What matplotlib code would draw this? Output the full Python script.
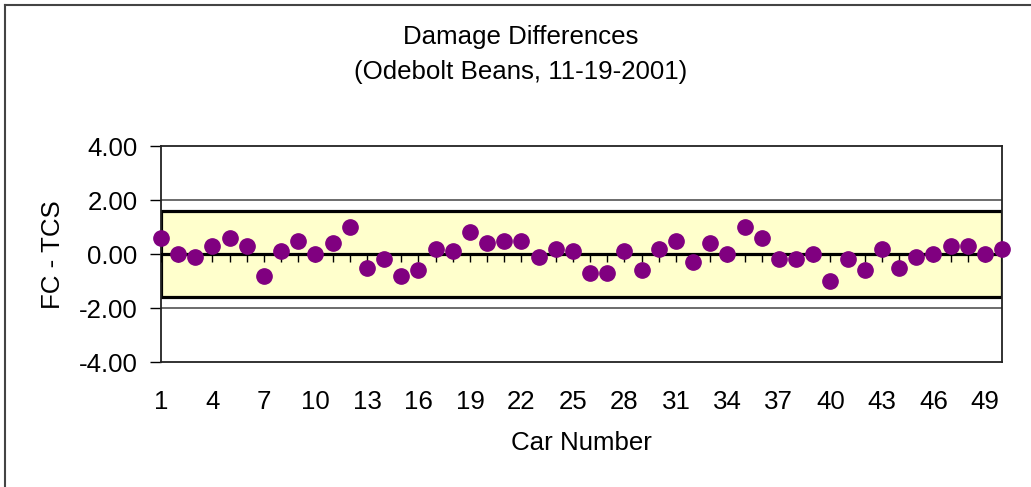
import matplotlib
matplotlib.use("Agg")
import matplotlib.pyplot as plt
from matplotlib.lines import Line2D
from matplotlib.patches import Rectangle

# === Dados ===
car_number = list(range(1, 51))
fc_minus_tcs = [0.6, 0.0, -0.1, 0.3, 0.6, 0.3, -0.8, 0.1, 0.5, 0.0,
                0.4, 1.0, -0.5, -0.2, -0.8, -0.6, 0.2, 0.1, 0.8, 0.4,
                0.5, 0.5, -0.1, 0.2, 0.1, -0.7, -0.7, 0.1, -0.6, 0.2,
                0.5, -0.3, 0.4, 0.0, 1.0, 0.6, -0.2, -0.2, 0.0, -1.0,
                -0.2, -0.6, 0.2, -0.5, -0.1, 0.0, 0.3, 0.3, 0.0, 0.2]
band_limit = 1.6
y_ticks = [-4, -2, 0, 2, 4]
x_label_ticks = list(range(1, 51, 3))

plt.rcParams["font.family"] = ["Liberation Sans", "DejaVu Sans"]
fs = 18.6

fig = plt.figure(figsize=(10.31, 4.87), dpi=100)
ax = fig.add_axes([161 / 1031, 1 - 362 / 487, (1002 - 161) / 1031, (362 - 146) / 487])

# faixa amarela
ax.add_patch(Rectangle((car_number[0], -band_limit), car_number[-1] - car_number[0], 2 * band_limit,
                       facecolor="#FFFFCC", edgecolor="black", linewidth=2.3, zorder=2))

# linhas de grade
for yv in [-2, 2]:
    ax.axhline(yv, color="#444444", linewidth=1.1, zorder=1)
ax.axhline(0, color="black", linewidth=2.3, zorder=3)

# marcas no eixo zero
ax.vlines(car_number, -0.3, 0, color="black", linewidth=1.0, zorder=3)

ax.plot(car_number, fc_minus_tcs, linestyle="none", marker="o", markersize=11,
        color="#800080", zorder=5, clip_on=False)

ax.set_xlim(car_number[0], car_number[-1])
ax.set_ylim(-4, 4)
ax.set_yticks(y_ticks)
ax.set_yticklabels([f"{v:.2f}" for v in y_ticks], fontsize=fs)
ax.set_xticks(x_label_ticks)
ax.set_xticklabels([str(v) for v in x_label_ticks], fontsize=fs)
ax.tick_params(axis="x", length=0, pad=20)
ax.tick_params(axis="y", length=8, width=1.0, direction="out", pad=9)

for s in ax.spines.values():
    s.set_linewidth(1.3)
    s.set_color("#222222")

fig.text(53 / 1031, 1 - 255 / 487, "FC - TCS", fontsize=fs, rotation=90, ha="center", va="center")
fig.text(581 / 1031, 1 - 443 / 487, "Car Number", fontsize=fs, ha="center", va="center")
fig.text(521 / 1031, 1 - 37 / 487, "Damage Differences", fontsize=fs, ha="center", va="center")
fig.text(521 / 1031, 1 - 72 / 487, "(Odebolt Beans, 11-19-2001)", fontsize=fs, ha="center", va="center")

# borda da figura (esquerda e topo)
fig.add_artist(Line2D([5 / 1031, 5 / 1031], [0, 1 - 5 / 487], transform=fig.transFigure,
                      color="#444444", linewidth=1.5))
fig.add_artist(Line2D([5 / 1031, 1], [1 - 5 / 487, 1 - 5 / 487], transform=fig.transFigure,
                      color="#444444", linewidth=1.5))

fig.savefig("out.png", dpi=100)
